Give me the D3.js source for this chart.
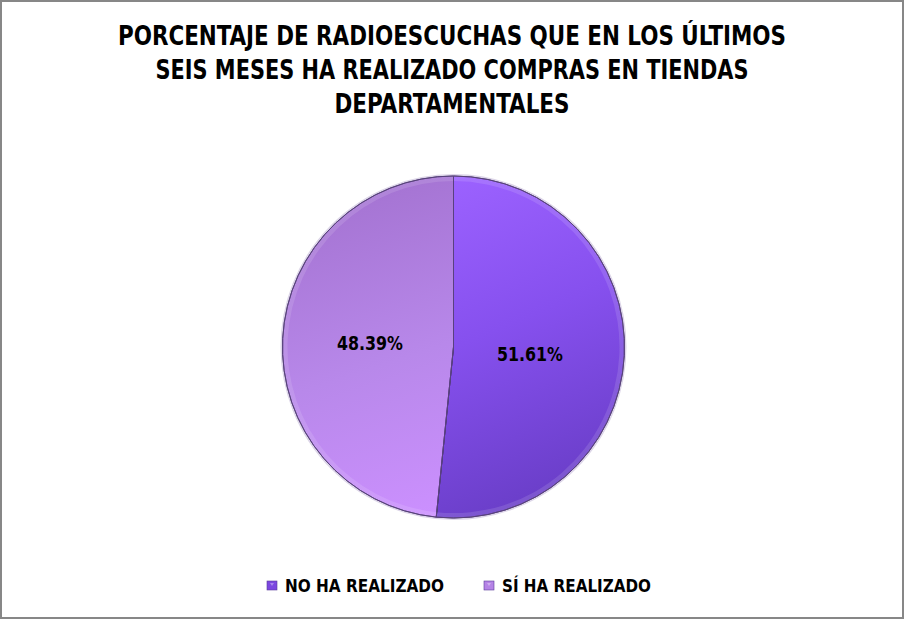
<!DOCTYPE html>
<html><head><meta charset="utf-8">
<script src="https://cdn.jsdelivr.net/npm/d3@7"></script>
<style>
html,body{margin:0;padding:0;background:#fff;}
svg{display:block;}
text{font-family:"Liberation Sans Narrow","DejaVu Sans Condensed","Liberation Sans",Arial,sans-serif;font-weight:bold;fill:#000;}
</style></head>
<body>
<svg id="c" width="904" height="619"></svg>
<script>
const titleLines = ["PORCENTAJE DE RADIOESCUCHAS QUE EN LOS ÚLTIMOS","SEIS MESES HA REALIZADO COMPRAS EN TIENDAS","DEPARTAMENTALES"];
const categories = ["NO HA REALIZADO","SÍ HA REALIZADO"];
const values = [51.61, 48.39];
const labels = ["51.61%","48.39%"];

const svg = d3.select("#c");
const W = 904, H = 619;
svg.append("rect").attr("x",0).attr("y",0).attr("width",W).attr("height",H).attr("fill","#fff");
// frame
svg.append("rect").attr("x",1).attr("y",1).attr("width",W-2).attr("height",H-2)
  .attr("fill","none").attr("stroke","#878787").attr("stroke-width",2);

const defs = svg.append("defs");
const cx = 453.5, cy = 347, r = 171;
// gradients in the pie group's local coordinates (centered at 0,0)
const g1 = defs.append("linearGradient").attr("id","gNo").attr("gradientUnits","userSpaceOnUse")
  .attr("x1",0).attr("y1",-r).attr("x2",r*0.8).attr("y2",r*0.9);
g1.append("stop").attr("offset","0").attr("stop-color","#9c62ff");
g1.append("stop").attr("offset","0.45").attr("stop-color","#8650ee");
g1.append("stop").attr("offset","1").attr("stop-color","#673cc4");
const g2 = defs.append("linearGradient").attr("id","gSi").attr("gradientUnits","userSpaceOnUse")
  .attr("x1",-r*0.7).attr("y1",-r*0.8).attr("x2",-r*0.1).attr("y2",r);
g2.append("stop").attr("offset","0").attr("stop-color","#a675d4");
g2.append("stop").attr("offset","0.5").attr("stop-color","#b888ea");
g2.append("stop").attr("offset","1").attr("stop-color","#cc90ff");
const fills = ["url(#gNo)","url(#gSi)"];
const legendFills = ["#7b47e0","#b583e6"];

// title
const titleY = [45, 79, 113];
const titleLen = [668, 593, 235];
svg.append("g").selectAll("text").data(titleLines).join("text")
  .attr("x", W/2).attr("y", (d,i)=>titleY[i]).attr("text-anchor","middle")
  .attr("font-size", 27).attr("textLength",(d,i)=>titleLen[i]).attr("lengthAdjust","spacingAndGlyphs")
  .text(d=>d);

// pie
const pie = d3.pie().sort(null).value(d=>d)(values);
const arc = d3.arc().innerRadius(0).outerRadius(r);
const pg = svg.append("g").attr("transform",`translate(${cx},${cy})`);
pg.append("circle").attr("r",r+1).attr("fill","none").attr("stroke","#ddd6e8").attr("stroke-width",2);
pg.selectAll("path.s").data(pie).join("path").attr("class","s")
  .attr("d",arc).attr("fill",(d,i)=>fills[i])
  .attr("stroke","#3e2c60").attr("stroke-width",1).attr("stroke-linejoin","round");
// bevel highlight on rim
const rim = d3.arc().innerRadius(r-5).outerRadius(r);
pg.selectAll("path.rim").data(pie).join("path").attr("class","rim")
  .attr("d",rim).attr("fill","#ffffff").attr("opacity",0.12);
pg.selectAll("path.o").data(pie).join("path").attr("class","o")
  .attr("d",arc).attr("fill","none").attr("stroke","#5a4280").attr("stroke-width",0.8);

// data labels
const labelPos = [[530,361],[370,350]];
svg.append("g").selectAll("text").data(labels).join("text")
  .attr("x",(d,i)=>labelPos[i][0]).attr("y",(d,i)=>labelPos[i][1])
  .attr("text-anchor","middle").attr("font-size",19)
  .attr("textLength",66).attr("lengthAdjust","spacingAndGlyphs")
  .text(d=>d);

// legend
const legX = [267, 484];
const legLen = [159, 149];
const lg = svg.append("g");
categories.forEach((c,i)=>{
  lg.append("rect").attr("x",legX[i]).attr("y",581).attr("width",10).attr("height",9)
    .attr("fill",legendFills[i]).attr("stroke","#5b3c9a").attr("stroke-width",0.6);
  lg.append("path").attr("d",`M${legX[i]+3},${583} L${legX[i]+7},${583} L${legX[i]+5},${586} Z`)
    .attr("fill","#ffffff").attr("opacity",0.35);
  lg.append("text").attr("x",legX[i]+18).attr("y",592).attr("font-size",17)
    .attr("textLength",legLen[i]).attr("lengthAdjust","spacingAndGlyphs").text(c);
});
</script>
</body></html>
